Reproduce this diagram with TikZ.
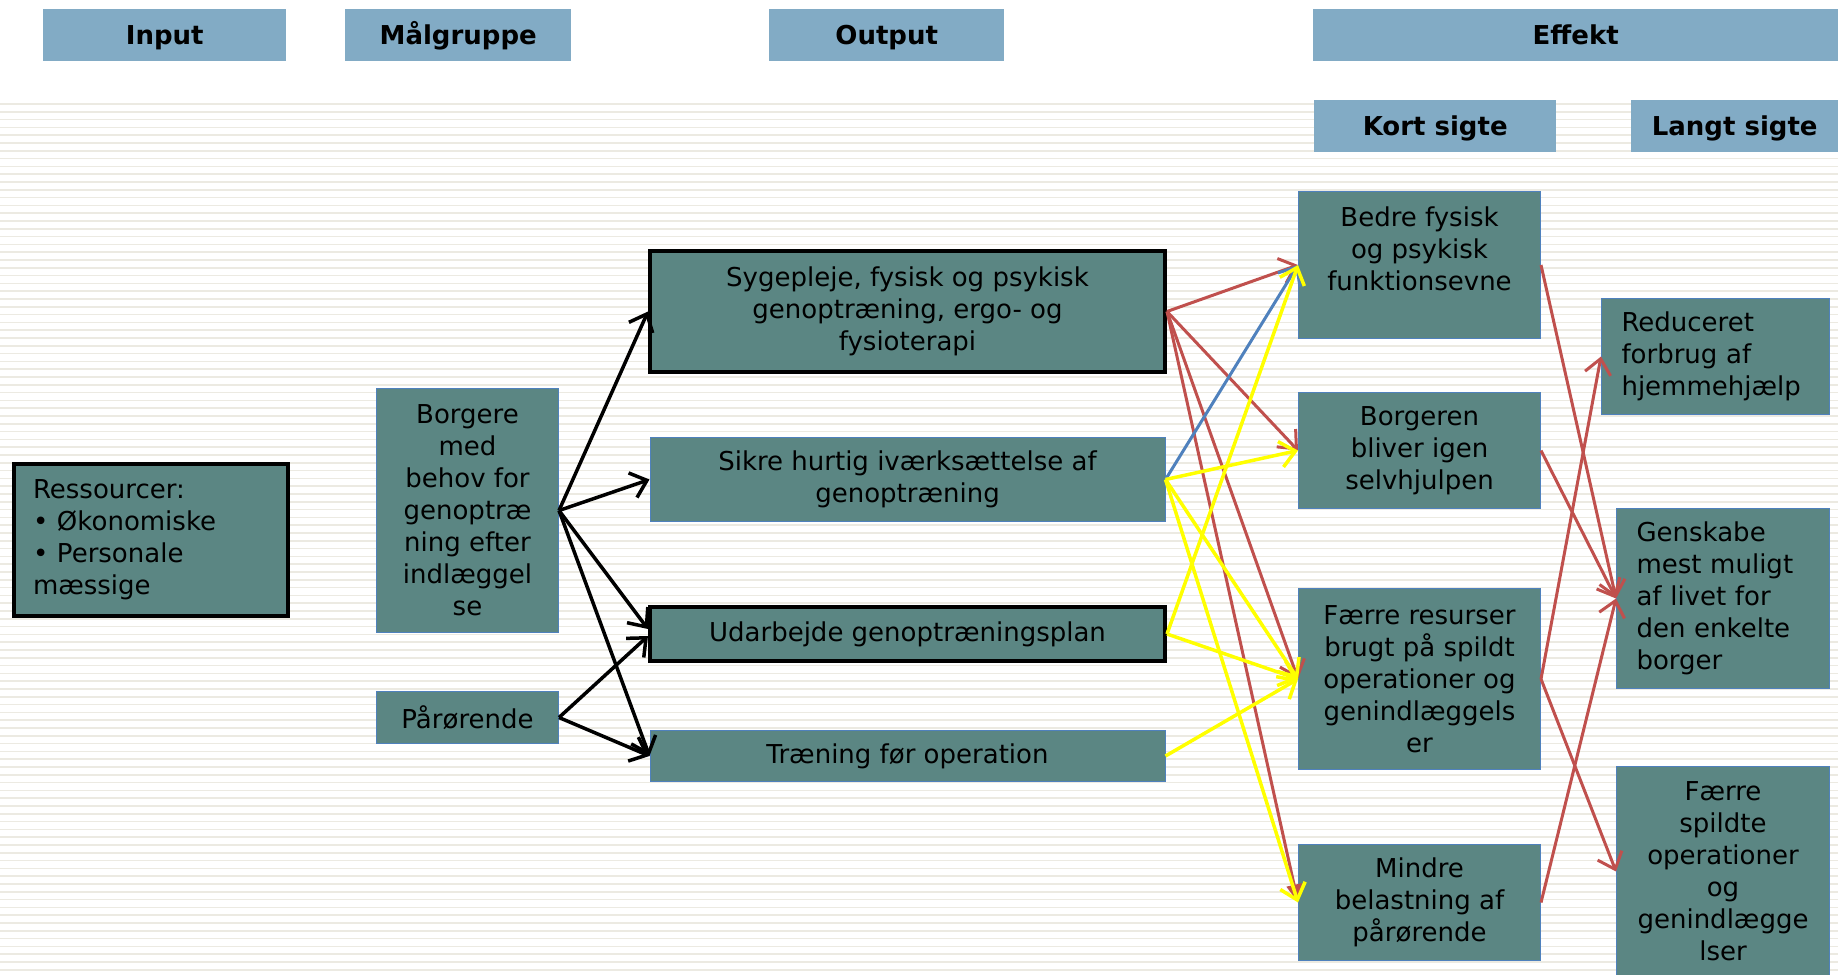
\documentclass[tikz,border=0pt]{standalone}
\usepackage{fontspec}
\setmainfont{DejaVu Sans}
\usepackage{tikz}
\usetikzlibrary{positioning,arrows.meta}

\definecolor{hdblaa}{RGB}{130,171,197}
\definecolor{boksgron}{RGB}{91,134,131}
\definecolor{kant}{RGB}{79,129,189}
\definecolor{rodpil}{RGB}{192,80,77}
\definecolor{blaapil}{RGB}{79,129,189}
\definecolor{gulpil}{RGB}{255,255,0}
\definecolor{stribe}{RGB}{236,234,226}

\begin{document}
\begin{tikzpicture}[
      x=1pt, y=-1pt,
      hd/.style = {fill=hdblaa, minimum height=52pt, inner sep=0pt,
        text height=19pt, text depth=0pt,
        font=\fontsize{26}{30}\selectfont\bfseries},
      boks/.style = {fill=boksgron, draw=kant, line width=1pt, inner sep=2pt,
        align=center, font=\fontsize{26}{32}\selectfont},
      bk/.style = {boks, draw=black, line width=4pt},
      pil/.style = {-{Straight Barb[length=15pt,width=26pt]}},
      sort/.style = {pil, black, line width=3.5pt},
      rod/.style = {pil, rodpil, line width=3pt},
      blaa/.style = {pil, blaapil, line width=3pt},
      gul/.style = {pil, gulpil, line width=3.5pt},
      node distance = 60pt
      ]
      \useasboundingbox (0,0) rectangle (1838,974);
      \fill[white] (0,0) rectangle (1838,974);
      % baggrund
      \foreach \y in {104,111.8,...,974}
        \draw[stribe, line width=1.6pt] (0,\y) -- (1838,\y);

      % overskrifter
      \node[hd, minimum width=243pt, anchor=north west] (inp) at (43,9) {Input};
      \node[hd, minimum width=226pt, anchor=north west] (mal) at (345,9) {Målgruppe};
      \node[hd, minimum width=235pt, anchor=north west] (out) at (769,9) {Output};
      \node[hd, minimum width=525pt, anchor=north west] (eff) at (1313,9) {Effekt};
      \node[hd, minimum width=242pt, anchor=north west] (kort) at (1314,100) {Kort sigte};
      \node[hd, minimum width=207pt, anchor=north west] (lang) at (1631,100) {Langt sigte};

      % input og målgruppe
      \node[bk, align=left, text width=236pt, inner xsep=19pt, minimum height=152pt,
        anchor=north west] (res) at (12,462) {Ressourcer:\\• Økonomiske\\• Personale\\mæssige};
      \node[boks, minimum width=182pt, minimum height=244pt, anchor=north west] (borg) at (376,388)
        {Borgere\\med\\behov for\\genoptræ\\ning efter\\indlæggel\\se};
      \node[boks, minimum width=182pt, minimum height=52pt, below=58pt of borg] (paar) {Pårørende};

      % output
      \node[bk, minimum width=515pt, minimum height=121pt, anchor=north west] (syg) at (648,249)
        {Sygepleje, fysisk og psykisk\\genoptræning, ergo- og\\fysioterapi};
      \node[boks, minimum width=515pt, minimum height=84pt, below=63pt of syg] (sikre)
        {Sikre hurtig iværksættelse af\\genoptræning};
      \node[bk, minimum width=515pt, minimum height=54pt, below=83pt of sikre] (plan)
        {Udarbejde genoptræningsplan};
      \node[boks, minimum width=515pt, minimum height=51pt, below=67pt of plan] (tren)
        {Træning før operation};

      % kort sigte
      \node[boks, minimum width=242pt, minimum height=147pt, anchor=north west] (bedre) at (1298,191)
        {Bedre fysisk\\og psykisk\\funktionsevne\\\mbox{}};
      \node[boks, minimum width=242pt, minimum height=116pt, below=53pt of bedre] (selv)
        {Borgeren\\bliver igen\\selvhjulpen};
      \node[boks, minimum width=242pt, minimum height=181pt, below=79pt of selv] (faerre)
        {Færre resurser\\brugt på spildt\\operationer og\\genindlæggels\\er};
      \node[boks, minimum width=242pt, minimum height=116pt, below=74pt of faerre] (mindre)
        {Mindre\\belastning af\\pårørende};

      % langt sigte
      \node[boks, align=left, text width=188pt, inner xsep=20pt, minimum height=116pt,
        anchor=north west] (hjem) at (1601,298) {Reduceret\\forbrug af\\hjemmehjælp};
      \node[boks, align=left, text width=173pt, inner xsep=20pt, minimum height=180pt,
        anchor=north west] (livet) at (1616,508) {Genskabe\\mest muligt\\af livet for\\den enkelte\\borger};
      \node[boks, minimum width=213pt, minimum height=210pt, anchor=north west] (spild) at (1616,766)
        {Færre\\spildte\\operationer\\og\\genindlægge\\lser};

      % pile
      \draw[sort] (borg.east) -- (syg.west);
      \draw[sort] (borg.east) -- (sikre.west);
      \draw[sort] (borg.east) -- ([yshift=5pt]plan.west);
      \draw[sort] (borg.east) -- (tren.west);
      \draw[sort] (paar.east) -- ([yshift=-2pt]plan.west);
      \draw[sort] (paar.east) -- (tren.west);

      \foreach \a/\b in {syg/bedre, syg/selv, syg/faerre}
        \draw[rod] (\a.east) -- (\b.west);
      \draw[rodpil, line width=3pt, -{Triangle[length=18pt,width=15pt]}] (syg.east) -- (mindre.west);
      \draw[blaa] (sikre.east) -- (bedre.west);
      \foreach \a/\b in {sikre/selv, sikre/faerre, sikre/mindre, plan/bedre, plan/faerre, tren/faerre}
        \draw[gul] (\a.east) -- (\b.west);

      \foreach \a/\b in {bedre/livet, selv/livet, faerre/hjem, faerre/spild, mindre/livet}
        \draw[rod] (\a.east) -- (\b.west);
    \end{tikzpicture}
\end{document}
